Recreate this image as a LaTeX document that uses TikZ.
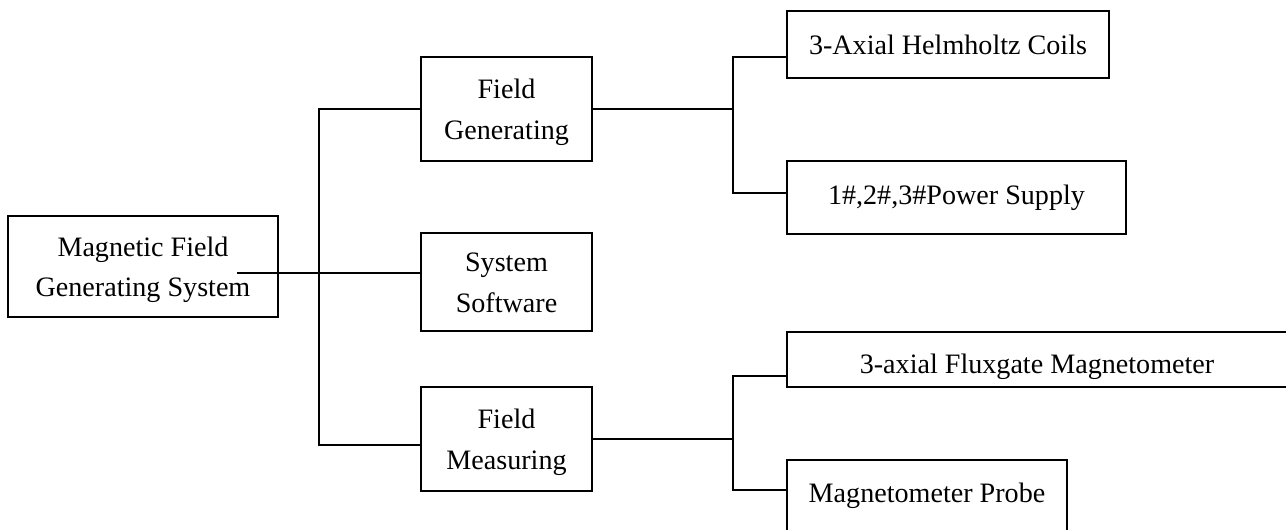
\documentclass[tikz,border=0pt]{standalone}
\usepackage{fontspec}
\setmainfont{Liberation Serif}
\usetikzlibrary{positioning}

\begin{document}
\begin{tikzpicture}[x=0.02cm, y=-0.02cm,
  box/.style={draw, line width=0.8pt, inner sep=0pt, align=center,
    font=\fontsize{16}{23}\selectfont},
  twoline/.style={box, text height=38pt, text depth=3.5pt},
  link/.style={line width=0.7pt}]

\clip (0,0) rectangle (1286,529);

% root
\node[twoline, minimum width=5.40cm, minimum height=2.02cm] (sys) at (143,266.5)
  {Magnetic Field\\Generating System};

% second level
\node[twoline, minimum width=3.42cm, minimum height=2.08cm] (gen) at (506.5,109) {Field\\Generating};
\node[twoline, minimum width=3.42cm, minimum height=1.96cm] (soft) at (506.5,282) {System\\Software};
\node[twoline, minimum width=3.42cm, minimum height=2.08cm] (meas) at (506.5,439) {Field\\Measuring};

% third level
\node[box, minimum width=6.44cm, minimum height=1.34cm] (coils) at (948,44.5) {3-Axial Helmholtz Coils};
\node[box, minimum width=6.78cm, minimum height=1.46cm] (power) at (956.5,197.5) {1\#,2\#,3\#Power Supply};
\node[box, minimum width=10cm, minimum height=1.10cm, text height=19pt, text depth=3.5pt] (flux) at (1037,359.5)
  {3-axial Fluxgate Magnetometer};
\node[box, minimum width=5.6cm, minimum height=1.44cm] (probe) at (927,496) {Magnetometer Probe};

% joints
\coordinate (sysout) at (237,273);
\coordinate (bustop) at (319,109);
\coordinate (busbot) at (319,445);
\coordinate (gentop) at (733,57);
\coordinate (genbot) at (733,193);
\coordinate (meatop) at (733,376);
\coordinate (meabot) at (733,490);

% root to second level
\draw[link] (sysout) -- (sysout -| soft.west);
\draw[link] (gen.west) -- (bustop) -- (busbot) -- (busbot -| meas.west);

% second to third level
\foreach \from/\top/\bot/\a/\b in {gen/gentop/genbot/coils/power, meas/meatop/meabot/flux/probe}
{
  \draw[link] (\from.east) -- (\from.east -| \top);
  \draw[link] (\a.west |- \top) -- (\top) -- (\bot) -- (\b.west |- \bot);
}

\end{tikzpicture}
\end{document}
